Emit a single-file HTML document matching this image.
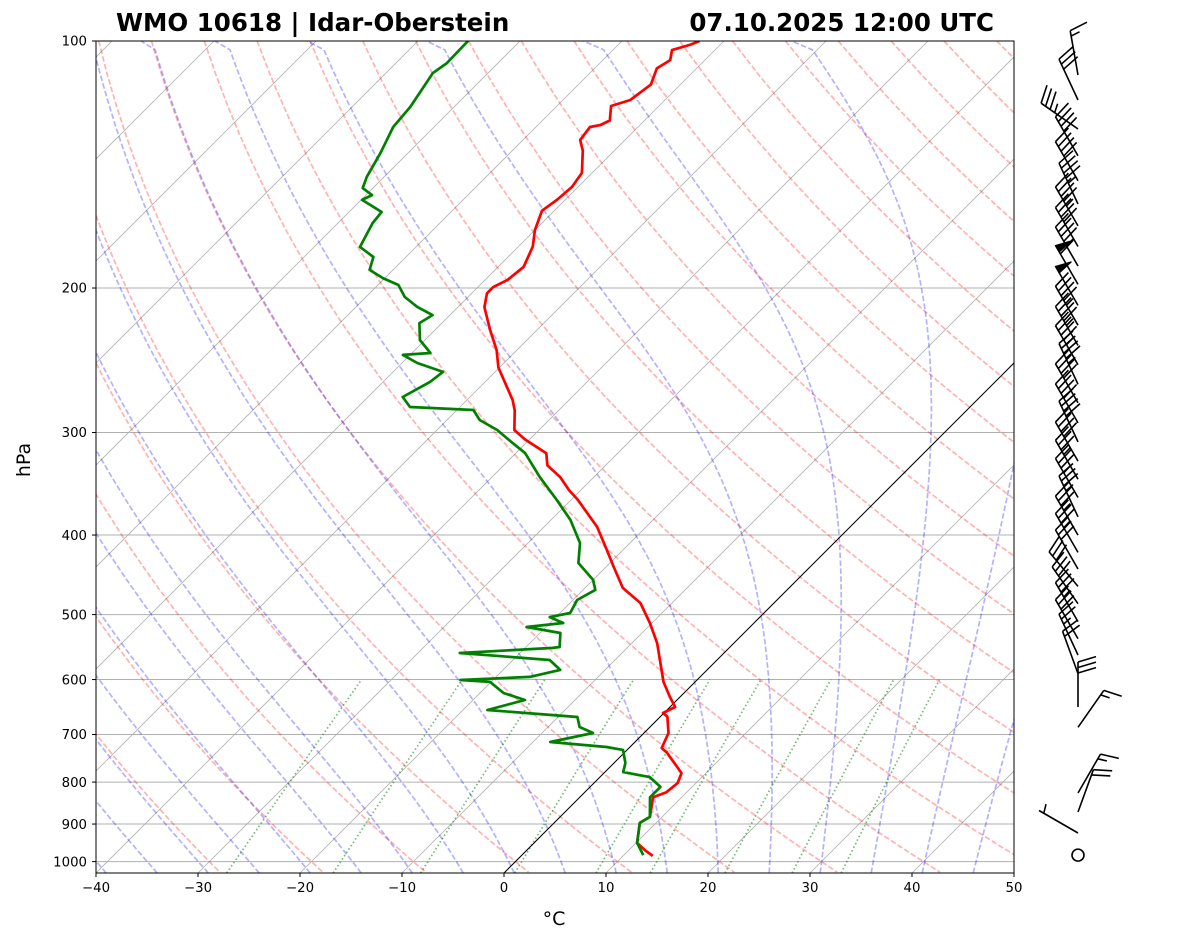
<!DOCTYPE html>
<html><head><meta charset="utf-8">
<style>
html,body{margin:0;padding:0;background:#fff;}
svg{display:block;font-family:"DejaVu Sans","Liberation Sans",sans-serif;}
</style></head>
<body>
<svg id="chart" width="1181" height="941" viewBox="0 0 1181 941" xmlns="http://www.w3.org/2000/svg">
<defs><clipPath id="plotclip"><rect x="96" y="41" width="918" height="832"/></clipPath></defs>
<rect x="0" y="0" width="1181" height="941" fill="#fff"/>
<text x="116" y="31" font-size="24.5" font-weight="bold">WMO 10618 | Idar-Oberstein</text>
<text x="994" y="31" font-size="24.5" font-weight="bold" text-anchor="end">07.10.2025 12:00 UTC</text>
<text x="30" y="460" font-size="19" text-anchor="middle" transform="rotate(-90 30 460)">hPa</text>
<text x="554" y="925" font-size="19" text-anchor="middle">°C</text>
<g id="bg" clip-path="url(#plotclip)"></g>
<g id="data" clip-path="url(#plotclip)"></g>
<rect x="96" y="41" width="918" height="832" fill="none" stroke="#000" stroke-width="1"/>
<g id="axes"></g>
<g id="barbs"></g>
</svg>
<script>
// ---- data ----
const tempP = [984,970,949,897,882,835,823,802,780,767,737,727,697,666,659,648,630,604,568,542,512,484,464,437,417,391,362,353,340,329,318,306,298,282,274,250,238,225,211,203,199.5,195.5,188.5,178,170,161,156,150.6,144.8,136,132,127.3,126.6,125,120,118,113,108,105.5,102.6,101,100];
const tempT = [12.9,11.7,10.1,8.4,8.8,7.2,8.0,8.2,7.6,6.6,4.2,3.2,2.4,0.7,-0.1,0.5,-1.0,-3.1,-5.6,-7.5,-10.2,-13.1,-16.3,-19.3,-21.6,-24.8,-29.4,-31.1,-33.3,-35.7,-37.0,-40.4,-42.4,-44.3,-45.5,-50.1,-52.0,-54.6,-57.4,-58.5,-58.5,-57.8,-57.5,-58.6,-60.0,-61.2,-60.8,-60.6,-61.0,-63.1,-64.4,-64.7,-63.9,-63.4,-64.7,-63.4,-62.9,-63.9,-63.4,-64.2,-62.9,-62.4];
const dewP = [982,949,897,882,835,811,789,778,758,731,725,715,697,685.5,666.5,653.6,635.5,623,604,600.7,595.6,584,568,557,549,547.7,526.6,517.8,512,503.5,497.8,480,466.6,453.7,432.6,409,383.4,362.5,340,317.8,309,297.9,289.6,281.6,279.3,271.5,260.3,253.1,246.8,241.3,240,231.4,220.7,215.8,210.9,205.1,198.3,194.5,190.1,183.3,178.2,166.7,161.6,156.2,154.1,151.1,146.4,136.9,127.3,120.3,109.4,106.4,100];
const dewT = [11.9,10.1,8.4,8.8,6.9,6.9,4.9,1.8,1.1,-0.4,-2.3,-8.3,-5.0,-6.9,-8.1,-17.6,-14.9,-17.7,-20.1,-23.2,-16.7,-14.4,-16.4,-25.9,-17.3,-16.7,-18.0,-21.9,-18.7,-20.6,-19.0,-19.6,-18.8,-20.0,-23.1,-24.9,-28.1,-31.4,-35.3,-39.1,-41.3,-44.1,-46.8,-48.4,-54.9,-56.6,-55.4,-55.1,-58.5,-60.7,-58.2,-60.5,-62.2,-61.7,-64.0,-66.2,-68.0,-70.2,-72.3,-73.2,-75.5,-76.6,-76.8,-79.9,-79.4,-81.0,-81.7,-82.7,-84.0,-84.3,-85.4,-85.0,-85.1];
const barbP = [110,118,128,138,148,158,168,178,188,198,210,222,235,248,262,276,292,308,325,342,360,380,400,420,440,462,485,510,535,560,590,648,686,825,870,923,982];
const barbSpd = [15,30,35,40,40,45,45,40,45,60,50,45,45,45,45,40,40,40,40,35,35,35,35,35,30,30,30,35,30,25,20,30,15,15,20,5,0];
const barbDir = [350,335,305,330,330,335,330,330,330,330,330,330,330,330,335,330,330,335,330,330,330,335,330,330,330,320,325,330,330,335,340,0,35,30,20,300,0];
const pTicks = [100,200,300,400,500,600,700,800,900,1000];
const tTicks = [-40,-30,-20,-10,0,10,20,30,40,50];
const dryTheta = [-30,-20,-10,0,10,20,30,40,50,60,70,80,90,100,110,120,130,140,150,160,170,180,190];
const moistT0 = [-49,-44,-39,-34,-29,-24,-19,-14,-9,-4,1,6,11,16,21,26,31,36,41,46];
const mixW = [0.0004,0.001,0.002,0.004,0.007,0.01,0.016,0.024,0.032];

// ---- axes ----
const PB = 1032.5, PT = 100;
function yOf(p){ return 41 + 820.6*Math.log10(p/100); }
function xOf(T,p){ return 96 + (T+40)*10.2 + (873 - yOf(p)); }
const NS = "http://www.w3.org/2000/svg";
function mk(tag, attrs, parent){ const e=document.createElementNS(NS,tag); for(const k in attrs) e.setAttribute(k,attrs[k]); parent.appendChild(e); return e; }
function pathFrom(ps, ts){ let d=""; for(let i=0;i<ps.length;i++){ d+=(i?"L":"M")+xOf(ts[i],ps[i]).toFixed(1)+","+yOf(ps[i]).toFixed(1); } return d; }
const bg=document.getElementById('bg'), dg=document.getElementById('data'), ag=document.getElementById('axes'), bgb=document.getElementById('barbs');

// horizontal grid
pTicks.forEach(p=>{
  const l=mk('line',{x1:96,x2:1014,y1:yOf(p),y2:yOf(p),stroke:'#b0b0b0','stroke-width':1},bg);
  
  
});
// skewed isotherms
for(let T=-130;T<=50;T+=10){
  const l=mk('line',{x1:xOf(T,PB),y1:yOf(PB),x2:xOf(T,PT),y2:yOf(PT),stroke:'#b0b0b0','stroke-width':0.8},bg);
  
  
}
// dry adiabats
dryTheta.forEach(th=>{
  const ps=[],ts=[]; for(let p=PT;p<=PB+1;p+=10){ ps.push(p); ts.push((th+273.15)*Math.pow(p/1000,0.2857)-273.15); }
  const e=mk('path',{d:pathFrom(ps,ts),fill:'none',stroke:'rgba(255,0,0,0.3)','stroke-width':1.7,'stroke-dasharray':'5.5,2.4'},bg);
  
  
});
// moist adiabats
function dTdp(p,Tc){ const Tk=Tc+273.15; const es=6.112*Math.exp(17.67*Tc/(Tc+243.5)); const rs=0.622*es/(p-es);
  return (287.04*Tk+2.501e6*rs)/(1005.7+2.501e6*2.501e6*rs*0.622/(287.04*Tk*Tk))/p; }
moistT0.forEach(t0=>{
  const ps=[PB],ts=[t0]; let p=PB,T=t0; const h=-5;
  while(p>PT){ const k1=dTdp(p,T)*h; const k2=dTdp(p+h,T+k1)*h; T+=0.5*(k1+k2); p+=h; ps.push(Math.max(p,PT)); ts.push(T); }
  const e=mk('path',{d:pathFrom(ps,ts),fill:'none',stroke:'rgba(0,0,255,0.3)','stroke-width':1.7,'stroke-dasharray':'5.5,2.4'},bg);
  
  
});
// mixing ratio lines
mixW.forEach(w=>{
  const ps=[],ts=[]; for(let p=PB;p>=600;p-=10){ const e=w*p/(0.622+w); const l=Math.log(e/6.112); ps.push(p); ts.push(243.5*l/(17.67-l)); }
  ps.push(600); { const e=w*600/(0.622+w); const l=Math.log(e/6.112); ts.push(243.5*l/(17.67-l)); }
  const e=mk('path',{d:pathFrom(ps,ts),fill:'none',stroke:'rgba(0,128,0,0.55)','stroke-width':1.7,'stroke-dasharray':'1.5,2.5'},bg);
  
  
});
// 0 C isotherm
{ const l=mk('line',{x1:xOf(0,PB),y1:yOf(PB),x2:xOf(0,PT),y2:yOf(PT),stroke:'#000','stroke-width':1},bg);
  
   }
// profiles
{ const t=mk('path',{d:pathFrom(tempP,tempT),fill:'none',stroke:'#ff0000','stroke-width':2.7,'stroke-linejoin':'round'},dg);
  
  
  const d=mk('path',{d:pathFrom(dewP,dewT),fill:'none',stroke:'#008000','stroke-width':2.7,'stroke-linejoin':'round'},dg);
  
   }
// ticks
pTicks.forEach(p=>{
  const y=yOf(p);
  const tk=mk('line',{x1:92,x2:96,y1:y,y2:y,stroke:'#000','stroke-width':1},ag);
  
  
  const t=mk('text',{x:87,y:y+4.7,'font-size':13.3,'text-anchor':'end'},ag); t.textContent=p;
  
  
});
tTicks.forEach(T=>{
  const x=96+(T+40)*10.2;
  const tk=mk('line',{x1:x,x2:x,y1:873,y2:877,stroke:'#000','stroke-width':1},ag);
  
  
  const t=mk('text',{x:x,y:892,'font-size':13.3,'text-anchor':'middle'},ag); t.textContent=(T<0?'\u2212'+(-T):T);
  
  
});
// wind barbs
const BX=1078, STAFF=45, FL=18, SP=5.5;
barbP.forEach((p,i)=>{
  const y=yOf(p), spd=barbSpd[i], dir=barbDir[i]*Math.PI/180;
  const g=mk('g',{},bgb);
  
  
  if(spd<2.5){ mk('circle',{cx:BX,cy:y,r:6,fill:'none',stroke:'#000','stroke-width':1.6},g); return; }
  const ux=Math.sin(dir), uy=-Math.cos(dir); const px=-uy, py=ux;
  const tx=BX+ux*STAFF, ty=y+uy*STAFF;
  let d="M"+BX+","+y.toFixed(1)+"L"+tx.toFixed(1)+","+ty.toFixed(1);
  let rem=Math.round(spd/5)*5, pos=0; let fills="";
  while(rem>=50){ const ax=tx-ux*pos, ay=ty-uy*pos, bx=tx-ux*(pos+SP*1.4), by=ty-uy*(pos+SP*1.4);
    const cx=ax+px*FL*0.9-ux*SP*0.7, cy=ay+py*FL*0.9-uy*SP*0.7;
    fills+="M"+ax.toFixed(1)+","+ay.toFixed(1)+"L"+cx.toFixed(1)+","+cy.toFixed(1)+"L"+bx.toFixed(1)+","+by.toFixed(1)+"Z"; pos+=SP*1.4+2; rem-=50; }
  while(rem>=10){ const ax=tx-ux*pos, ay=ty-uy*pos; d+="M"+ax.toFixed(1)+","+ay.toFixed(1)+"L"+(ax+px*FL+ux*FL*0.3).toFixed(1)+","+(ay+py*FL+uy*FL*0.3).toFixed(1); pos+=SP; rem-=10; }
  if(rem>=5){ if(pos===0) pos=SP; const ax=tx-ux*pos, ay=ty-uy*pos; d+="M"+ax.toFixed(1)+","+ay.toFixed(1)+"L"+(ax+px*FL*0.5+ux*FL*0.15).toFixed(1)+","+(ay+py*FL*0.5+uy*FL*0.15).toFixed(1); }
  mk('path',{d:d,fill:'none',stroke:'#000','stroke-width':1.6},g);
  if(fills) mk('path',{d:fills,fill:'#000',stroke:'#000','stroke-width':1},g);
});
</script>
</body></html>
